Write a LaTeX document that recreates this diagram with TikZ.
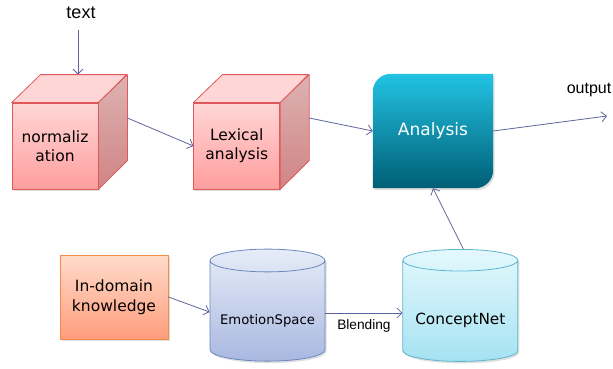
\documentclass[tikz,border=0pt]{standalone}
\usepackage{fontspec}
\setmainfont{DejaVu Sans}
\newfontfamily\helvfont{Liberation Sans}
\usetikzlibrary{arrows.meta,positioning,shapes.geometric,shadows,backgrounds}

\definecolor{arrowblue}{HTML}{5E6499}
\definecolor{cubeedge}{HTML}{E0585C}
\definecolor{cubelight}{HTML}{FFD6D6}
\definecolor{cubedark}{HTML}{FF9E9E}
\definecolor{sidelight}{HTML}{DDB2B2}
\definecolor{sidedark}{HTML}{D08484}
\definecolor{anatop}{HTML}{22C3E3}
\definecolor{anabottom}{HTML}{005E76}
\definecolor{knowedge}{HTML}{F28A4A}
\definecolor{knowtop}{HTML}{FFDCCB}
\definecolor{knowbottom}{HTML}{FF9C7C}
\definecolor{emoedge}{HTML}{6A88BE}
\definecolor{emotop}{HTML}{E6ECF8}
\definecolor{emobottom}{HTML}{A9B8E0}
\definecolor{cnetedge}{HTML}{5CB6CE}
\definecolor{cnettop}{HTML}{E4F8FD}
\definecolor{cnetbottom}{HTML}{A6E2F2}

\tikzset{
	flow/.style={draw=arrowblue,line width=0.8pt,-{Straight Barb[length=5pt,width=10pt]}},
	shadowed/.style={drop shadow={opacity=0.25,shadow xshift=1.5pt,shadow yshift=-2pt}},
	cubefront/.style={draw=cubeedge,line width=0.8pt,top color=cubelight,bottom color=cubedark,
		minimum width=86pt,minimum height=86pt,inner sep=0pt,align=center,
		font=\fontsize{15.5}{19}\selectfont,shadowed},
	cubetop/.style={draw=cubeedge,line width=0.8pt,fill=cubelight,line join=round},
	cubeside/.style={draw=cubeedge,line width=0.8pt,top color=sidelight,bottom color=sidedark,line join=round},
	anabox/.style={minimum width=120pt,minimum height=114pt,inner sep=0pt,text=white,
		font=\fontsize{17}{20}\selectfont},
	knowbox/.style={draw=knowedge,line width=0.8pt,top color=knowtop,bottom color=knowbottom,
		minimum width=108pt,minimum height=84pt,align=center,inner sep=0pt,
		font=\fontsize{15.5}{20}\selectfont,shadowed},
	store/.style={cylinder,shape border rotate=90,aspect=0.24,draw,line width=0.8pt,
		minimum width=115pt,minimum height=112pt,inner sep=0pt,shadowed},
	plain/.style={font=\helvfont\fontsize{18}{20}\selectfont}
}

% the cube faces behind a front node
\newcommand\cubesides[1]{%
	\filldraw[cubetop] (#1.north west) -- ++(29,-28) -- ++(86,0) -- (#1.north east) -- cycle;
	\shadedraw[cubeside] (#1.north east) -- ++(29,-28) -- ++(0,86) -- (#1.south east) -- cycle;
	\coordinate (#1 back) at ([shift={(29,-28)}]#1.east);}

\begin{document}
\begin{tikzpicture}[x=1pt,y=-1pt]
	\useasboundingbox (0,0) rectangle (613,368);

	\node[plain] (txt) at (81,13) {text};
	\coordinate (txt in) at ([xshift=-3pt]txt.south);
	\node[cubefront] (norm) at (55,146) {normaliz\\ation};
	\cubesides{norm}
	\node[cubefront,right=95pt of norm] (lex) {Lexical\\analysis};
	\cubesides{lex}
	\node[anabox] (ana) at (433,131) {Analysis};
	\begin{pgfonlayer}{background}
		\shade[top color=anatop,bottom color=anabottom,shadowed]
			(ana.west) [rounded corners=18pt] |- (ana.north) [sharp corners] -| (ana.east)
			[rounded corners=18pt] |- (ana.south) [sharp corners] -| (ana.west) -- cycle;
	\end{pgfonlayer}
	\node[plain,font=\helvfont\fontsize{16}{18}\selectfont] (outlbl) at (589,90) {output};
	\coordinate (out) at (607,116);

	\node[knowbox] (know) at (114,297) {In-domain\\knowledge};
	\node[store,draw=emoedge,top color=emotop,bottom color=emobottom,
		font=\fontsize{13.2}{16}\selectfont] (emo) at (267.5,311)
		{\raisebox{-13pt}[0pt][0pt]{EmotionSpace}};
	\node[store,draw=cnetedge,top color=cnettop,bottom color=cnetbottom,
		font=\fontsize{15.3}{18}\selectfont,right=77pt of emo] (cnet)
		{\raisebox{-13pt}[0pt][0pt]{ConceptNet}};

	\draw[flow,shorten <=8pt] (txt in) -- ([yshift=28pt]norm.north -| txt in);
	\draw[flow] (norm back) -- (lex.west);
	\draw[flow] (lex back) -- (ana.west);
	\draw[flow] (ana.east) -- (out);
	\draw[flow] (know.east) -- ([yshift=-1pt]emo.west);
	\draw[flow] ([yshift=-2pt]emo.east) -- node[below=3pt,font=\helvfont\fontsize{13.7}{15}\selectfont] {Blending} ([yshift=-2pt]cnet.west);
	\draw[flow] ([xshift=3pt]cnet.top) -- (ana.south);
\end{tikzpicture}
\end{document}
